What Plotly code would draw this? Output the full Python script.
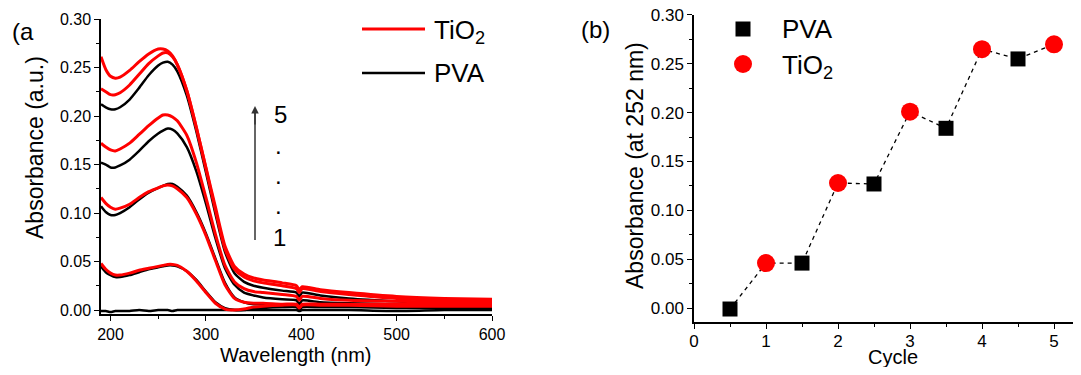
import plotly.graph_objects as go

# target picture size and the browser's default 8px body margin
W, H = 1081, 375
OFF = 8
FW, FH = W - 2 * OFF, H - 2 * OFF

# ---------------- data: panel (a) UV-vis spectra ----------------
wavelength = [190, 195, 200, 205, 210, 220, 230, 240, 250, 255, 260, 265, 270, 280, 290,
              300, 310, 320, 330, 340, 350, 360, 380, 395, 398, 401, 420, 450, 500, 550, 600]

pva_0_5 = [-0.001, -0.001, -0.002, -0.001, -0.001, -0.001, 0.000, -0.001, 0.000, 0.000, 0.000,
           -0.001, 0.000, 0.000, 0.000, 0.000, 0.000, 0.000, 0.000, 0.000, 0.000, 0.000, 0.000,
           0.000, -0.001, 0.000, 0.000, 0.000, -0.001, 0.000, 0.000]
tio2_1 = [0.048, 0.042, 0.038, 0.036, 0.036, 0.038, 0.041, 0.043, 0.045, 0.046, 0.047, 0.047,
          0.046, 0.040, 0.030, 0.018, 0.007, 0.001, 0.000, 0.001, 0.003, 0.004, 0.005, 0.005,
          0.002, 0.005, 0.005, 0.005, 0.004, 0.004, 0.004]
pva_1_5 = [0.045, 0.039, 0.036, 0.034, 0.034, 0.036, 0.039, 0.042, 0.044, 0.045, 0.046, 0.046,
           0.045, 0.040, 0.031, 0.019, 0.008, 0.002, 0.000, 0.000, 0.001, 0.002, 0.003, 0.003,
           0.000, 0.003, 0.003, 0.003, 0.002, 0.002, 0.002]
tio2_2 = [0.116, 0.110, 0.106, 0.104, 0.105, 0.109, 0.116, 0.122, 0.126, 0.128, 0.129, 0.128,
          0.125, 0.116, 0.099, 0.077, 0.051, 0.026, 0.012, 0.008, 0.007, 0.007, 0.006, 0.006,
          0.003, 0.006, 0.006, 0.006, 0.006, 0.006, 0.006]
pva_2_5 = [0.107, 0.101, 0.098, 0.098, 0.100, 0.106, 0.114, 0.121, 0.126, 0.128, 0.130, 0.130,
           0.127, 0.118, 0.101, 0.079, 0.053, 0.028, 0.013, 0.008, 0.006, 0.006, 0.005, 0.004,
           0.001, 0.004, 0.004, 0.004, 0.004, 0.004, 0.004]
tio2_3 = [0.172, 0.168, 0.165, 0.164, 0.166, 0.172, 0.181, 0.190, 0.198, 0.201, 0.201, 0.199,
          0.195, 0.180, 0.152, 0.116, 0.078, 0.046, 0.029, 0.022, 0.019, 0.018, 0.016, 0.014,
          0.010, 0.014, 0.012, 0.010, 0.009, 0.008, 0.008]
pva_3_5 = [0.152, 0.150, 0.147, 0.147, 0.149, 0.155, 0.164, 0.174, 0.182, 0.185, 0.187, 0.186,
           0.182, 0.168, 0.143, 0.110, 0.074, 0.043, 0.026, 0.018, 0.015, 0.013, 0.011, 0.010,
           0.006, 0.010, 0.008, 0.007, 0.006, 0.005, 0.005]
tio2_4 = [0.228, 0.225, 0.222, 0.222, 0.224, 0.232, 0.243, 0.254, 0.262, 0.265, 0.265, 0.261,
          0.253, 0.226, 0.188, 0.146, 0.103, 0.063, 0.042, 0.034, 0.030, 0.028, 0.025, 0.022,
          0.018, 0.022, 0.019, 0.016, 0.012, 0.010, 0.009]
pva_4_5 = [0.212, 0.209, 0.207, 0.207, 0.209, 0.217, 0.229, 0.242, 0.252, 0.255, 0.256, 0.253,
           0.246, 0.221, 0.184, 0.142, 0.099, 0.060, 0.038, 0.029, 0.025, 0.023, 0.020, 0.018,
           0.014, 0.018, 0.015, 0.012, 0.009, 0.007, 0.007]
tio2_5 = [0.261, 0.248, 0.241, 0.239, 0.240, 0.247, 0.256, 0.264, 0.269, 0.269, 0.267, 0.262,
          0.253, 0.226, 0.188, 0.147, 0.106, 0.066, 0.045, 0.037, 0.033, 0.031, 0.028, 0.025,
          0.021, 0.024, 0.021, 0.018, 0.014, 0.012, 0.011]

pva_spectra = [pva_0_5, pva_1_5, pva_2_5, pva_3_5, pva_4_5]
tio2_spectra = [tio2_1, tio2_2, tio2_3, tio2_4, tio2_5]

# ---------------- data: panel (b) absorbance at 252 nm ----------------
pva_cycle = [0.5, 1.5, 2.5, 3.5, 4.5]
pva_abs = [-0.001, 0.046, 0.127, 0.184, 0.255]
tio2_cycle = [1, 2, 3, 4, 5]
tio2_abs = [0.046, 0.128, 0.201, 0.265, 0.270]

x_ticks_a = [200, 300, 400, 500, 600]
y_ticks = [0.00, 0.05, 0.10, 0.15, 0.20, 0.25, 0.30]
x_ticks_b = [0, 1, 2, 3, 4, 5]

RED = "#ff0000"
BLACK = "#000000"
FONT = "Arial, Liberation Sans, sans-serif"


def px(x):
    return (x - OFF) / FW


def py(y):
    return 1 - (y - OFF) / FH


fig = go.Figure()

# panel (a)
for s in pva_spectra:
    fig.add_trace(go.Scatter(x=wavelength, y=s, mode="lines",
                             line=dict(color=BLACK, width=2.5, shape="spline", smoothing=0.6),
                             showlegend=False, xaxis="x", yaxis="y", hoverinfo="skip"))
for s in tio2_spectra:
    fig.add_trace(go.Scatter(x=wavelength, y=s, mode="lines",
                             line=dict(color=RED, width=3, shape="spline", smoothing=0.6),
                             showlegend=False, xaxis="x", yaxis="y", hoverinfo="skip"))

# panel (b)
pts = sorted(zip(pva_cycle + tio2_cycle, pva_abs + tio2_abs))
fig.add_trace(go.Scatter(x=[p[0] for p in pts], y=[p[1] for p in pts], mode="lines",
                         line=dict(color=BLACK, width=1.3, dash="4px,4px"), showlegend=False,
                         xaxis="x2", yaxis="y2", cliponaxis=False))
fig.add_trace(go.Scatter(x=pva_cycle, y=pva_abs, mode="markers", name="PVA",
                         marker=dict(symbol="square", size=15, color=BLACK), showlegend=False,
                         xaxis="x2", yaxis="y2", cliponaxis=False))
fig.add_trace(go.Scatter(x=tio2_cycle, y=tio2_abs, mode="markers", name="TiO2",
                         marker=dict(symbol="circle", size=18, color=RED), showlegend=False,
                         xaxis="x2", yaxis="y2", cliponaxis=False))

axis_common = dict(showline=True, linecolor=BLACK, linewidth=1.5, ticks="outside", ticklen=5,
                   tickwidth=1.3, tickcolor=BLACK, showgrid=False, zeroline=False, mirror=False,
                   automargin=False, ticklabeloverflow="allow")

xb_end = (W - OFF - 694) / 72.0

# y ranges: extend the top slightly (0.3005) so the 0.30 tick is kept
ya_top_px = 310 - 0.3005 * 970
yb_top_px = 308 - 0.3005 * 976.7

fig.update_layout(
    width=FW, height=FH, margin=dict(l=0, r=0, t=0, b=0),
    paper_bgcolor="white", plot_bgcolor="white",
    font=dict(family=FONT, color=BLACK),
    showlegend=False,
    xaxis=dict(domain=[px(101), px(492)], range=[190, 600], tickvals=x_ticks_a, anchor="y",
               tickfont=dict(size=16),
               minor=dict(ticks="outside", ticklen=3, dtick=50, tick0=0, tickcolor=BLACK, showgrid=False),
               **axis_common),
    yaxis=dict(domain=[py(314), py(ya_top_px)], range=[-0.0041, 0.3005], tickvals=y_ticks, tickformat=".2f",
               anchor="x", tickfont=dict(size=16),
               minor=dict(ticks="outside", ticklen=3, dtick=0.025, tick0=0, tickcolor=BLACK, showgrid=False),
               **axis_common),
    xaxis2=dict(domain=[px(694), 1.0], range=[0, xb_end], tickvals=x_ticks_b, anchor="y2",
                tickfont=dict(size=17), ticklabelstandoff=-2,
                minor=dict(ticks="outside", ticklen=3, dtick=0.5, tick0=0, tickcolor=BLACK, showgrid=False),
                **axis_common),
    yaxis2=dict(domain=[py(322), py(yb_top_px)], range=[-0.0143, 0.3005], tickvals=y_ticks, tickformat=".2f",
                anchor="x2", tickfont=dict(size=17),
                minor=dict(ticks="outside", ticklen=3, dtick=0.025, tick0=0, tickcolor=BLACK, showgrid=False),
                **axis_common),
)

ann = []


def text(t, x, y, size, xanchor="center", angle=0, yanchor="middle"):
    ann.append(dict(text=t, x=px(x), y=py(y), xref="paper", yref="paper", showarrow=False,
                    xanchor=xanchor, yanchor=yanchor, textangle=angle,
                    font=dict(size=size, family=FONT, color=BLACK)))


# axis titles
text("Absorbance (a.u.)", 35, 148, 23, angle=-90)
text("Wavelength (nm)", 296, 355, 20)
text("Absorbance (at 252 nm)", 635, 166, 23, angle=-90)
text("Cycle", 893, 356.5, 20)

# panel labels
text("(a", 10, 31, 24, xanchor="left")
text("(b)", 579, 30, 24, xanchor="left")

# legend (a)
fig.add_shape(type="line", xref="paper", yref="paper", x0=px(362), x1=px(425), y0=py(29), y1=py(29),
              line=dict(color=RED, width=3))
fig.add_shape(type="line", xref="paper", yref="paper", x0=px(362), x1=px(425), y0=py(73), y1=py(73),
              line=dict(color=BLACK, width=2.5))
text("TiO<sub>2</sub>", 432, 31, 26, xanchor="left")
text("PVA", 432, 73, 26, xanchor="left")

# legend (b)
fig.add_shape(type="rect", xref="paper", yref="paper", x0=px(743 - 7.5), x1=px(743 + 7.5),
              y0=py(29 + 7.5), y1=py(29 - 7.5), fillcolor=BLACK, line=dict(width=0))
fig.add_shape(type="circle", xref="paper", yref="paper", x0=px(743 - 9), x1=px(743 + 9),
              y0=py(64 + 9), y1=py(64 - 9), fillcolor=RED, line=dict(width=0))
text("PVA", 780, 29, 26, xanchor="left")
text("TiO<sub>2</sub>", 780, 66, 26, xanchor="left")

# arrow and cycle labels in (a)
fig.add_shape(type="line", xref="paper", yref="paper", x0=px(255), x1=px(255), y0=py(240), y1=py(112),
              line=dict(color="#333333", width=1.5))
ann.append(dict(text="", x=px(255), y=py(106), xref="paper", yref="paper", showarrow=True,
                ax=0, ay=20, arrowhead=2, arrowsize=1, arrowwidth=1.5, arrowcolor="#333333"))
text("5", 280, 115, 24)
text("1", 279, 237, 24)
for dy in (152, 182, 212):
    text(".", 278, dy - 7, 24)

fig.update_layout(annotations=ann)

fig.write_html("out.html", config={"displayModeBar": False})
